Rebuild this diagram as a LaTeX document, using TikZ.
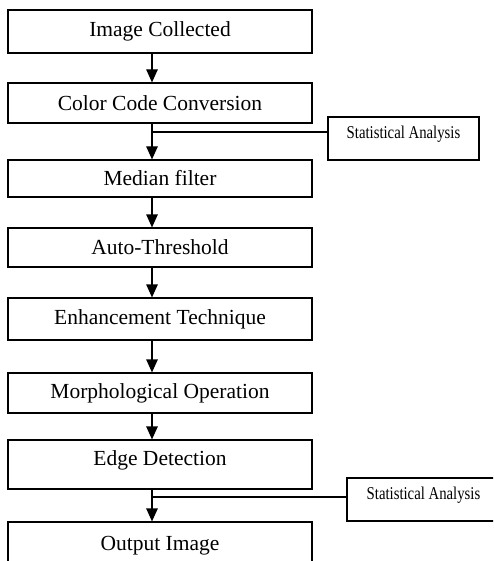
\documentclass[tikz,border=0pt]{standalone}
\usepackage{fontspec}
\setmainfont{Liberation Serif}
\newfontfamily\statfont[FakeStretch=0.82]{Liberation Serif}
\usetikzlibrary{arrows.meta}
\begin{document}
\begin{tikzpicture}[x=1pt,y=-1pt,
  mainbox/.style={draw, line width=1.2pt, minimum width=304pt, inner sep=0pt,
    font=\fontsize{21.5}{24}\selectfont},
  statbox/.style={draw, line width=1.2pt, minimum height=43pt, inner sep=0pt,
    text height=9pt, text depth=9pt, font=\statfont\fontsize{18}{20}\selectfont},
  arr/.style={line width=1.2pt, -{Triangle[width=11.5pt,length=13pt]}},
  link/.style={line width=1.2pt}]
\useasboundingbox (0,0) rectangle (493,561);
\begin{scope}
\clip (0,0) rectangle (493,561);
\node[mainbox, minimum height=43pt] (b1) at (160,31.5) {Image Collected};
\node[mainbox, minimum height=40pt] (b2) at (160,103) {Color Code Conversion};
\node[mainbox, minimum height=37pt] (b3) at (160,178.5) {Median filter};
\node[mainbox, minimum height=39pt] (b4) at (160,247.5) {Auto-Threshold};
\node[mainbox, minimum height=42pt] (b5) at (160,319) {Enhancement Technique};
\node[mainbox, minimum height=40pt] (b6) at (160,393) {Morphological Operation};
\node[mainbox, minimum height=49pt, text height=13pt, text depth=12pt] (b7) at (160,464.5) {Edge Detection};
\node[mainbox, minimum height=48pt] (b8) at (160,546) {Output Image};
\node[statbox, minimum width=151pt] (s1) at (403.5,138.5) {Statistical Analysis};
\node[statbox, minimum width=153pt] (s2) at (423.5,499.5) {Statistical Analysis};
\coordinate (ax) at (152,0);
\coordinate (j1) at (152,132);
\coordinate (j2) at (152,497);
\draw[arr] (b1.south -| ax) -- (b2.north -| ax);
\draw[arr] (b2.south -| ax) -- (b3.north -| ax);
\draw[link] (j1) -- (s1.west |- j1);
\draw[arr] (b3.south -| ax) -- (b4.north -| ax);
\draw[arr] (b4.south -| ax) -- (b5.north -| ax);
\draw[arr] (b5.south -| ax) -- (b6.north -| ax);
\draw[arr] (b6.south -| ax) -- (b7.north -| ax);
\draw[arr] (b7.south -| ax) -- (b8.north -| ax);
\draw[link] (j2) -- (s2.west |- j2);
\end{scope}
\end{tikzpicture}
\end{document}
